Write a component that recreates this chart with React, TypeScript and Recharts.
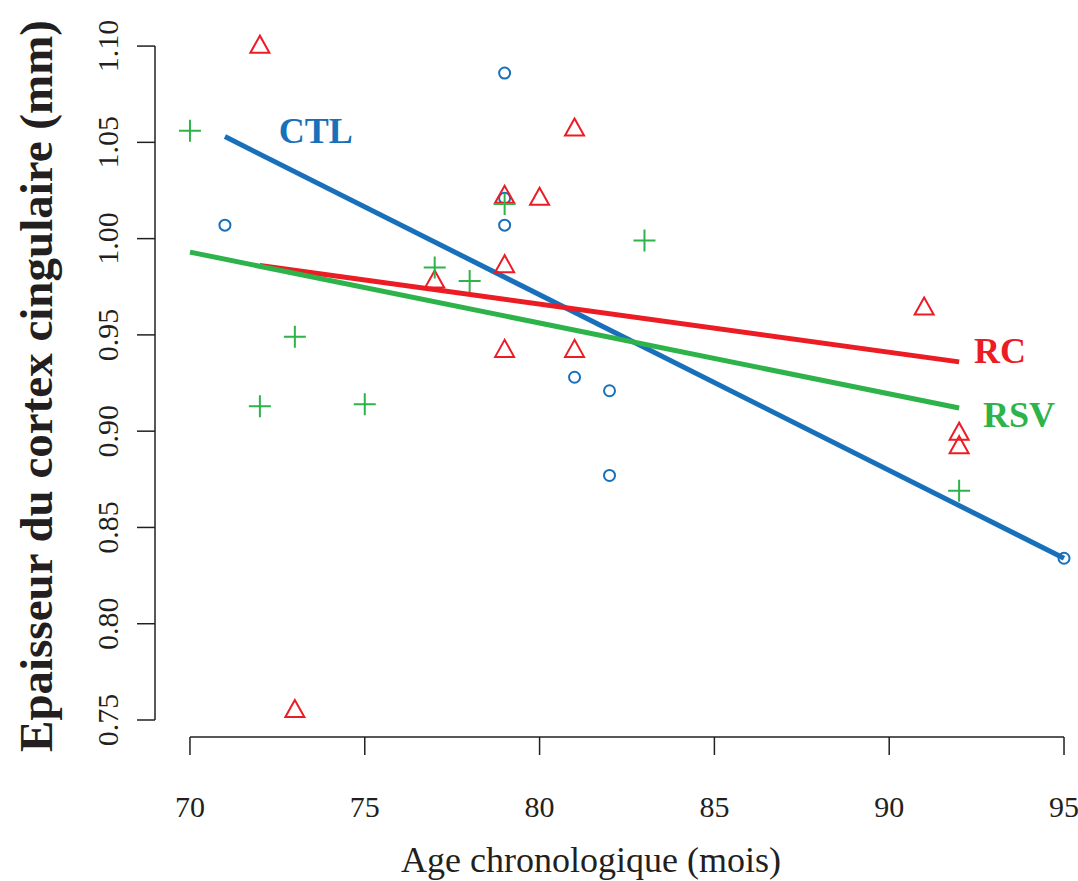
import React from 'react';
import { ComposedChart, Scatter, Line, XAxis, YAxis, ReferenceLine, ReferenceDot } from 'recharts';

// CTL (cercles bleus)
const ctlAge = [71, 79, 79, 79, 81, 82, 82, 95];
const ctlThick = [1.007, 1.086, 1.021, 1.007, 0.928, 0.921, 0.877, 0.834];

// RC (triangles rouges)
const rcAge = [72, 73, 77, 79, 79, 79, 80, 81, 81, 91, 92, 92];
const rcThick = [1.101, 0.756, 0.979, 1.023, 0.987, 0.943, 1.022, 1.058, 0.943, 0.965, 0.900, 0.893];

// RSV (croix vertes)
const rsvAge = [70, 72, 73, 75, 77, 78, 79, 83, 92];
const rsvThick = [1.056, 0.913, 0.949, 0.914, 0.985, 0.978, 1.018, 0.999, 0.869];

// droites de régression (début / fin)
const ctlFitAge = [71, 95];
const ctlFitThick = [1.053, 0.834];
const rcFitAge = [72, 92];
const rcFitThick = [0.986, 0.936];
const rsvFitAge = [70, 92];
const rsvFitThick = [0.993, 0.912];

const xTicks = [70, 75, 80, 85, 90, 95];
const yTicks = [0.75, 0.8, 0.85, 0.9, 0.95, 1.0, 1.05, 1.1];

const BLUE = '#1870bb';
const RED = '#ec1c24';
const GREEN = '#2db34a';
const INK = '#231f20';
const SERIF = 'Liberation Serif, Times New Roman, serif';

const toPoints = (xs: number[], ys: number[]) => xs.map((x, i) => ({ x, y: ys[i] }));

const CircleDot = (p: any) => (
  <circle cx={p.cx} cy={p.cy} r={5.5} fill="none" stroke={BLUE} strokeWidth={2} />
);

const TriangleDot = (p: any) => (
  <polygon
    points={`${p.cx},${p.cy - 8.5} ${p.cx - 9.5},${p.cy + 8.5} ${p.cx + 9.5},${p.cy + 8.5}`}
    fill="none"
    stroke={RED}
    strokeWidth={2}
  />
);

const PlusDot = (p: any) => (
  <path
    d={`M${p.cx - 11},${p.cy}H${p.cx + 11}M${p.cx},${p.cy - 11}V${p.cy + 11}`}
    stroke={GREEN}
    strokeWidth={2}
    fill="none"
  />
);

const XTick = ({ x, y, payload }: any) => (
  <text x={x} y={y + 22} textAnchor="middle" style={{ fontFamily: SERIF, fontSize: 30 }} fill={INK}>
    {payload.value}
  </text>
);

const YTick = ({ x, y, payload }: any) => (
  <text
    x={x}
    y={y}
    transform={`rotate(-90 ${x} ${y})`}
    textAnchor="middle"
    dominantBaseline="central"
    style={{ fontFamily: SERIF, fontSize: 30 }}
    fill={INK}
  >
    {Number(payload.value).toFixed(2)}
  </text>
);

const YTitle = () => (
  <text
    x={36}
    y={386}
    transform="rotate(-90 36 386)"
    textAnchor="middle"
    dominantBaseline="central"
    style={{ fontFamily: SERIF, fontSize: 47, fontWeight: 'bold' }}
    fill={INK}
  >
    Epaisseur du cortex cingulaire (mm)
  </text>
);

const XTitle = () => (
  <text x={591} y={872} textAnchor="middle" style={{ fontFamily: SERIF, fontSize: 36 }} fill={INK}>
    Age chronologique (mois)
  </text>
);

const seriesLabel = (value: string, color: string) => ({
  value,
  position: 'center' as const,
  fill: color,
  fontSize: 36,
  fontWeight: 'bold',
  fontFamily: SERIF,
});

export default function App() {
  return (
    <div style={{ position: 'absolute', left: 0, top: 0, width: 1078, height: 881, background: '#fff' }}>
      <ComposedChart width={1078} height={881} margin={{ top: 19.5, right: 0, bottom: 0, left: 0 }}>
        <XAxis
          dataKey="x"
          type="number"
          domain={[69, 95.4]}
          ticks={xTicks}
          allowDataOverflow
          height={144}
          axisLine={false}
          tickSize={18}
          tickMargin={40}
          tickLine={{ stroke: INK, strokeWidth: 1.5 }}
          tick={<XTick />}
          label={<XTitle />}
        />
        <YAxis
          dataKey="y"
          type="number"
          domain={[0.74117, 1.1138]}
          ticks={yTicks}
          allowDataOverflow
          width={155}
          axisLine={false}
          tickSize={18}
          tickMargin={29}
          tickLine={{ stroke: INK, strokeWidth: 1.5 }}
          tick={<YTick />}
          label={<YTitle />}
        />
        <ReferenceLine
          segment={[{ x: xTicks[0], y: 0.74117 }, { x: xTicks[xTicks.length - 1], y: 0.74117 }]}
          stroke={INK}
          strokeWidth={1.5}
        />
        <ReferenceLine
          segment={[{ x: 69, y: yTicks[0] }, { x: 69, y: yTicks[yTicks.length - 1] }]}
          stroke={INK}
          strokeWidth={1.5}
        />
        <Scatter data={toPoints(ctlAge, ctlThick)} dataKey="y" shape={CircleDot} isAnimationActive={false} />
        <Scatter data={toPoints(rcAge, rcThick)} dataKey="y" shape={TriangleDot} isAnimationActive={false} />
        <Scatter data={toPoints(rsvAge, rsvThick)} dataKey="y" shape={PlusDot} isAnimationActive={false} />
        <Line data={toPoints(ctlFitAge, ctlFitThick)} dataKey="y" stroke={BLUE} strokeWidth={5} dot={false} activeDot={false} isAnimationActive={false} />
        <Line data={toPoints(rcFitAge, rcFitThick)} dataKey="y" stroke={RED} strokeWidth={5} dot={false} activeDot={false} isAnimationActive={false} />
        <Line data={toPoints(rsvFitAge, rsvFitThick)} dataKey="y" stroke={GREEN} strokeWidth={5} dot={false} activeDot={false} isAnimationActive={false} />
        <ReferenceDot x={73.6} y={1.0564} r={0} fill="none" stroke="none" label={seriesLabel('CTL', BLUE)} />
        <ReferenceDot x={93.17} y={0.942} r={0} fill="none" stroke="none" label={seriesLabel('RC', RED)} />
        <ReferenceDot x={93.71} y={0.9086} r={0} fill="none" stroke="none" label={seriesLabel('RSV', GREEN)} />
      </ComposedChart>
    </div>
  );
}
